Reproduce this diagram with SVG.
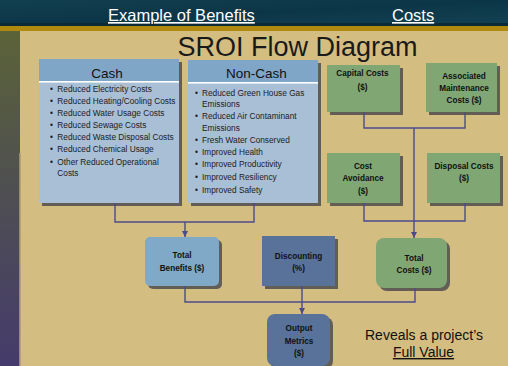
<svg xmlns="http://www.w3.org/2000/svg" width="508" height="366" viewBox="0 0 508 366">
<defs>
<linearGradient id="strip" x1="0" y1="0" x2="0" y2="1">
<stop offset="0" stop-color="#5b6338"/>
<stop offset="0.45" stop-color="#4f5050"/>
<stop offset="1" stop-color="#453b6c"/>
</linearGradient>
<linearGradient id="top" x1="0" y1="0" x2="1" y2="1">
<stop offset="0" stop-color="#123f50"/>
<stop offset="0.5" stop-color="#0c3647"/>
<stop offset="1" stop-color="#134254"/>
</linearGradient>
<marker id="arr" viewBox="0 0 8 8" refX="8" refY="4" markerWidth="6" markerHeight="6" orient="auto" markerUnits="userSpaceOnUse">
<path d="M0,0 L8,4 L0,8 Z" fill="#4b4b8c"/>
</marker>
<style>
.hd{font-family:"Liberation Sans",Arial,sans-serif;fill:#fff;font-size:16.5px;text-decoration:underline}
.title{font-family:"Liberation Sans",Arial,sans-serif;fill:#1a1a1a;font-size:27px}
.bh{font-family:"Liberation Sans",Arial,sans-serif;fill:#111;font-size:13.5px}
.li{font-family:"Liberation Sans",Arial,sans-serif;fill:#1c1c1c;font-size:8.3px}
.bt{font-family:"Liberation Sans",Arial,sans-serif;fill:#111;font-size:8.2px;font-weight:bold;text-anchor:middle}
.rv{font-family:"Liberation Sans",Arial,sans-serif;fill:#111;font-size:14px;text-anchor:middle}
.sh{fill:#4e4e4e;opacity:0.85}
.blue{fill:#a8bfd6}
.bluehd{fill:#7fa6c6}
.green{fill:#80a674}
.lt{fill:#80a8c7}
.dk{fill:#587299}
.conn{fill:none;stroke:#4b4b8c;stroke-width:1.4}
</style>
</defs>
<rect width="508" height="366" fill="#d4bd81"/>
<rect width="508" height="26" fill="url(#top)"/>
<rect y="23" width="508" height="3" fill="#0a2a36"/>
<rect y="26" width="508" height="5" fill="#b08a0e"/>
<rect x="0" y="31" width="20" height="335" fill="url(#strip)"/>
<rect x="19" y="153" width="1.5" height="213" fill="#9a8a6a"/>

<text class="hd" x="108" y="21">Example of Benefits</text>
<text class="hd" x="392" y="21">Costs</text>
<text class="title" x="297.5" y="56" text-anchor="middle">SROI Flow Diagram</text>

<g id="cash">
<rect class="sh" x="42" y="62" width="140" height="144"/>
<rect class="blue" x="39" y="59" width="140" height="144"/>
<rect class="bluehd" x="39" y="59" width="140" height="22"/>
<rect x="39" y="81" width="140" height="1.6" fill="#fff"/>
<text class="bh" x="107" y="77.5" text-anchor="middle">Cash</text>
<g class="li">
<text x="50" y="91.5">•</text><text x="57.3" y="91.5">Reduced Electricity Costs</text>
<text x="50" y="103.5">•</text><text x="57.3" y="103.5">Reduced Heating/Cooling Costs</text>
<text x="50" y="115.5">•</text><text x="57.3" y="115.5">Reduced Water Usage Costs</text>
<text x="50" y="127.8">•</text><text x="57.3" y="127.8">Reduced Sewage Costs</text>
<text x="50" y="140">•</text><text x="57.3" y="140">Reduced Waste Disposal Costs</text>
<text x="50" y="152.3">•</text><text x="57.3" y="152.3">Reduced Chemical Usage</text>
<text x="50" y="164.5">•</text><text x="57.3" y="164.5">Other Reduced Operational</text>
<text x="57.3" y="176.3">Costs</text>
</g>
</g>

<g id="noncash">
<rect class="sh" x="191" y="63" width="130" height="143"/>
<rect class="blue" x="188" y="60" width="130" height="143"/>
<rect class="bluehd" x="188" y="60" width="130" height="22"/>
<rect x="188" y="82" width="130" height="1.6" fill="#fff"/>
<text class="bh" x="256.3" y="77.5" text-anchor="middle">Non-Cash</text>
<g class="li">
<text x="195" y="95.7">•</text><text x="202" y="95.7">Reduced Green House Gas</text>
<text x="202" y="107.3">Emissions</text>
<text x="195" y="119.3">•</text><text x="202" y="119.3">Reduced Air Contaminant</text>
<text x="202" y="131">Emissions</text>
<text x="195" y="143">•</text><text x="202" y="143">Fresh Water Conserved</text>
<text x="195" y="155.3">•</text><text x="202" y="155.3">Improved Health</text>
<text x="195" y="167">•</text><text x="202" y="167">Improved Productivity</text>
<text x="195" y="180.3">•</text><text x="202" y="180.3">Improved Resiliency</text>
<text x="195" y="192.7">•</text><text x="202" y="192.7">Improved Safety</text>
</g>
</g>

<g id="capital">
<rect class="sh" x="330" y="68" width="73" height="47"/>
<rect class="green" x="327" y="65" width="73" height="47"/>
<text class="bt" x="362.5" y="76">Capital Costs</text>
<text class="bt" x="362.5" y="90">($)</text>
</g>
<g id="maintenance">
<rect class="sh" x="429" y="66" width="71" height="49"/>
<rect class="green" x="426" y="63" width="71" height="49"/>
<text class="bt" x="464" y="79">Associated</text>
<text class="bt" x="464" y="91">Maintenance</text>
<text class="bt" x="464" y="102.5">Costs ($)</text>
</g>
<g id="avoidance">
<rect class="sh" x="330" y="156" width="73" height="50"/>
<rect class="green" x="327" y="153" width="73" height="50"/>
<text class="bt" x="363" y="169">Cost</text>
<text class="bt" x="363" y="181">Avoidance</text>
<text class="bt" x="363" y="194">($)</text>
</g>
<g id="disposal">
<rect class="sh" x="430" y="156" width="73" height="50"/>
<rect class="green" x="427" y="153" width="73" height="50"/>
<text class="bt" x="464" y="169">Disposal Costs</text>
<text class="bt" x="464" y="181">($)</text>
</g>

<g id="totalbenefits">
<rect class="sh" x="148" y="240" width="74" height="49" rx="5"/>
<rect class="lt" x="145" y="237" width="74" height="49" rx="5"/>
<text class="bt" x="182" y="258">Total</text>
<text class="bt" x="182" y="271">Benefits ($)</text>
</g>
<g id="discounting">
<rect class="sh" x="265" y="239" width="73" height="50"/>
<rect class="dk" x="262" y="236" width="73" height="50"/>
<text class="bt" x="298.5" y="259">Discounting</text>
<text class="bt" x="298.5" y="271">(%)</text>
</g>
<g id="totalcosts">
<rect class="sh" x="379" y="241" width="71" height="50" rx="8"/>
<rect class="green" x="376" y="238" width="71" height="50" rx="8"/>
<text class="bt" x="414" y="261">Total</text>
<text class="bt" x="414" y="273">Costs ($)</text>
</g>
<g id="output">
<rect class="sh" x="270" y="317" width="63" height="52" rx="8"/>
<rect class="dk" x="267" y="314" width="63" height="52" rx="8"/>
<text class="bt" x="299" y="331">Output</text>
<text class="bt" x="299" y="344">Metrics</text>
<text class="bt" x="299" y="356">($)</text>
</g>

<g id="connectors">
<polyline class="conn" points="115,203 115,222 254,222 254,203"/>
<line class="conn" x1="185" y1="222" x2="185" y2="237" marker-end="url(#arr)"/>
<polyline class="conn" points="364,112 364,128 465,128 465,112"/>
<polyline class="conn" points="364,203 364,221 465,221 465,203"/>
<line class="conn" x1="414" y1="128" x2="414" y2="238" marker-end="url(#arr)"/>
<polyline class="conn" points="185,286 185,302 415,302 415,288"/>
<line class="conn" x1="302" y1="286" x2="302" y2="314" marker-end="url(#arr)"/>
</g>

<text class="rv" x="424" y="340">Reveals a project’s</text>
<text class="rv" x="423.5" y="357" text-decoration="underline">Full Value</text>
</svg>
